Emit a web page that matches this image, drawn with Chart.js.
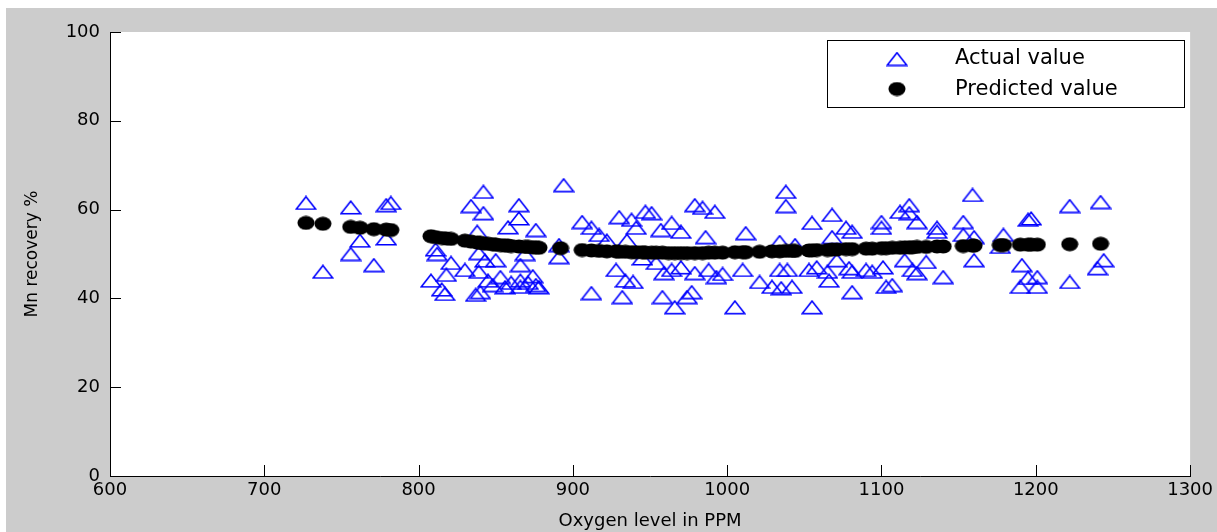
<!DOCTYPE html>
<html>
<head>
<meta charset="utf-8">
<title>Mn recovery vs oxygen level</title>
<script src="https://cdn.jsdelivr.net/npm/chart.js@4.4.1/dist/chart.umd.min.js"></script>
<style>
  html, body { margin: 0; padding: 0; background: #fff; }
  #wrap { width: 1217px; height: 532px; }
</style>
</head>
<body>
<div id="wrap"><canvas id="mnChart" width="1217" height="532"></canvas></div>
<script>
// measured samples: oxygen level (PPM) and Mn recovery (%)
const oxygen = [
  727, 738, 756, 756, 762, 771, 779, 779, 782,
  808, 811, 812, 815, 817, 818, 821, 830, 834, 837, 838, 839, 839, 840, 842, 842, 843, 845, 848,
  850, 853, 856, 858, 860, 865, 865, 866, 866, 866, 869, 871, 874, 876, 876, 878,
  891, 891, 894,
  906, 912, 912, 917, 922, 928, 930, 932, 934, 935, 938, 939, 941, 945, 947, 951, 954, 957,
  958, 959, 964, 964, 966, 970, 970, 974, 977, 979, 979, 984, 986, 988, 992, 993, 997,
  1005, 1010, 1012, 1021, 1029, 1034, 1034, 1035, 1038, 1038, 1039, 1042, 1044, 1053, 1055, 1055, 1058,
  1065, 1066, 1068, 1068, 1071, 1077, 1079, 1081, 1081, 1081, 1090, 1094, 1100, 1100, 1101, 1103, 1107,
  1112, 1115, 1118, 1118, 1120, 1123, 1123, 1129, 1136, 1136, 1140, 1153, 1153, 1159, 1160,
  1160, 1177, 1179, 1190, 1191, 1195, 1195, 1197, 1201, 1201, 1222, 1222, 1240, 1242, 1244
];
const actual = [
  61.5, 46.0, 60.5, 50.0, 53.0, 47.5, 61.0, 53.5, 61.5,
  44.0, 51.0, 50.0, 42.0, 41.0, 45.3, 48.0, 46.4, 60.8, 40.8, 55.0, 50.2, 46.0, 41.4, 64.0, 59.2, 48.5, 44.0, 43.0,
  48.6, 44.8, 42.5, 56.0, 43.5, 61.0, 58.0, 47.5, 44.0, 42.6, 50.0, 43.5, 45.0, 55.4, 43.0, 42.5,
  52.0, 49.3, 65.5,
  57.2, 55.9, 41.2, 54.3, 53.0, 46.4, 58.3, 40.3, 44.0, 53.0, 57.7, 43.7, 55.9, 49.0, 59.5, 59.2, 48.0, 55.4,
  40.3, 45.7, 57.0, 46.4, 38.0, 55.0, 47.0, 40.3, 41.4, 61.0, 45.7, 60.4, 53.8, 46.4, 59.5, 44.8, 45.5,
  38.0, 46.4, 54.7, 43.7, 42.6, 52.7, 46.4, 42.3, 64.0, 60.8, 46.4, 42.6, 52.0, 46.4, 57.0, 38.0, 47.0,
  46.0, 44.0, 58.8, 53.8, 48.6, 55.9, 46.8, 55.0, 46.0, 41.4, 46.4, 46.0, 57.2, 55.9, 47.0, 42.6, 43.0,
  59.5, 48.6, 61.0, 59.2, 46.4, 57.2, 45.7, 48.2, 55.9, 55.0, 44.8, 57.2, 54.3, 63.3, 53.8,
  48.6, 51.6, 54.3, 42.6, 47.5, 57.7, 44.6, 58.0, 44.8, 42.6, 60.8, 43.7, 46.8, 61.7, 48.6
];

// model output
const predOxygen = [
  727, 738, 756, 762, 771, 779, 782,
  808, 811, 815, 818, 821, 830, 834, 838, 840, 842, 845, 848, 850, 853, 856, 858, 860, 865, 869, 871, 874, 876, 878,
  892,
  906, 912, 917, 922, 928, 930, 934, 938, 941, 945, 947, 951, 954, 958, 962, 966, 970, 974, 979, 984, 988, 992, 997,
  1005, 1010, 1012, 1021, 1029, 1034, 1038, 1042, 1044, 1053, 1055, 1058, 1065, 1068, 1071, 1077, 1081, 1090, 1094,
  1100, 1103, 1107, 1112, 1115, 1118, 1120, 1123, 1129, 1136, 1140, 1153, 1159, 1160,
  1177, 1179, 1190, 1195, 1197, 1201, 1222, 1242
];
const predicted = [
  57.0, 56.8, 56.1, 55.9, 55.6, 55.5, 55.4,
  54.0, 53.8, 53.6, 53.5, 53.4, 53.0, 52.8, 52.6, 52.5, 52.4, 52.3, 52.2, 52.1, 52.0, 51.9, 51.9, 51.8, 51.7, 51.6, 51.6, 51.5, 51.5, 51.4,
  51.3,
  50.9, 50.8, 50.7, 50.6, 50.6, 50.5, 50.5, 50.4, 50.4, 50.4, 50.3, 50.3, 50.3, 50.3, 50.2, 50.2, 50.2, 50.2, 50.2, 50.2, 50.3, 50.3, 50.3,
  50.4, 50.4, 50.4, 50.5, 50.6, 50.6, 50.7, 50.7, 50.7, 50.8, 50.8, 50.9, 50.9, 51.0, 51.0, 51.1, 51.1, 51.2, 51.2,
  51.3, 51.3, 51.4, 51.4, 51.5, 51.5, 51.5, 51.6, 51.6, 51.7, 51.7, 51.8, 51.9, 51.9,
  52.0, 52.0, 52.1, 52.1, 52.1, 52.1, 52.2, 52.3
];

const xMin = 600, xMax = 1300, xStep = 100;
const yMin = 0, yMax = 100, yStep = 20;

const FONT = "'DejaVu Sans', 'Liberation Sans', Arial, sans-serif";

// marker images: open blue triangle, filled black dot
function makeTriangle() {
  const c = document.createElement("canvas");
  c.width = 22; c.height = 15;
  const g = c.getContext("2d");
  g.strokeStyle = "#0000ff";
  g.lineWidth = 1.6;
  g.beginPath();
  g.moveTo(11, 1.2);
  g.lineTo(20.8, 13.8);
  g.lineTo(1.2, 13.8);
  g.closePath();
  g.stroke();
  return c;
}
function makeDot() {
  const c = document.createElement("canvas");
  c.width = 18; c.height = 15;
  const g = c.getContext("2d");
  g.fillStyle = "#000";
  g.beginPath();
  g.ellipse(9, 7.5, 8.5, 7, 0, 0, Math.PI * 2);
  g.fill();
  return c;
}
const triImg = makeTriangle();
const dotImg = makeDot();

// gray figure background with white axes area
const background = {
  id: "background",
  beforeDraw(chart) {
    const { ctx, width, height, chartArea: a } = chart;
    ctx.save();
    ctx.fillStyle = "#fff";
    ctx.fillRect(0, 0, width, height);
    ctx.fillStyle = "#cccccc";
    ctx.fillRect(6, 8, width - 6, height - 8);
    ctx.fillStyle = "#fff";
    ctx.fillRect(a.left, a.top, a.right - a.left, a.bottom - a.top);
    ctx.restore();
  }
};

// inward tick marks and boxed legend
const overlay = {
  id: "overlay",
  afterDraw(chart) {
    const { ctx, chartArea: a } = chart;
    const xs = chart.scales.x, ys = chart.scales.y;
    ctx.save();
    ctx.strokeStyle = "#000";
    ctx.lineWidth = 1;
    ctx.beginPath();
    xs.ticks.forEach(t => {
      const px = Math.round(xs.getPixelForValue(t.value)) + 0.5;
      ctx.moveTo(px, a.bottom);
      ctx.lineTo(px, a.bottom - 11);
    });
    ys.ticks.forEach(t => {
      const py = Math.round(ys.getPixelForValue(t.value)) + 0.5;
      ctx.moveTo(a.left, py);
      ctx.lineTo(a.left + 11, py);
    });
    ctx.stroke();

    // legend
    const lx = 827, ly = 40, lw = 357, lh = 67;
    ctx.fillStyle = "#fff";
    ctx.fillRect(lx, ly, lw, lh);
    ctx.strokeRect(lx + 0.5, ly + 0.5, lw, lh);
    ctx.drawImage(triImg, 897 - triImg.width / 2, 59 - triImg.height / 2);
    ctx.drawImage(dotImg, 897 - dotImg.width / 2, 89 - dotImg.height / 2);
    ctx.fillStyle = "#000";
    ctx.font = "21px " + FONT;
    ctx.textBaseline = "middle";
    ctx.textAlign = "left";
    ctx.fillText("Actual value", 955, 59);
    ctx.fillText("Predicted value", 955, 90);
    ctx.restore();
  }
};

new Chart(document.getElementById("mnChart"), {
  type: "scatter",
  data: {
    datasets: [
      {
        label: "Actual value",
        data: oxygen.map((x, i) => ({ x: x, y: actual[i] })),
        pointStyle: triImg,
        pointRadius: 10,
        order: 2
      },
      {
        label: "Predicted value",
        data: predOxygen.map((x, i) => ({ x: x, y: predicted[i] })),
        pointStyle: dotImg,
        pointRadius: 9,
        order: 1
      }
    ]
  },
  options: {
    responsive: false,
    animation: false,
    events: [],
    layout: { padding: { left: 6, top: 32, right: 26, bottom: 0 } },
    plugins: { legend: { display: false }, tooltip: { enabled: false } },
    scales: {
      x: {
        type: "linear",
        min: xMin,
        max: xMax,
        ticks: {
          stepSize: xStep, color: "#000", font: { family: FONT, size: 18 }, padding: 4, maxRotation: 0,
          callback: v => String(v)
        },
        grid: { display: true, drawOnChartArea: false, drawTicks: false },
        border: { display: true, color: "#000", width: 1 },
        title: { display: true, text: "Oxygen level in PPM", color: "#000", font: { family: FONT, size: 18 }, padding: { top: 0, bottom: 0 } },
        afterFit(s) { s.height = 56; }
      },
      y: {
        type: "linear",
        min: yMin,
        max: yMax,
        ticks: { stepSize: yStep, color: "#000", font: { family: FONT, size: 18 }, padding: 10, callback: v => String(v) },
        grid: { display: true, drawOnChartArea: false, drawTicks: false },
        border: { display: true, color: "#000", width: 1 },
        title: { display: true, text: "Mn recovery %", color: "#000", font: { family: FONT, size: 17 }, padding: { top: 16, bottom: 0 } },
        afterFit(s) { s.width = 104; }
      }
    }
  },
  plugins: [background, overlay]
});
</script>
</body>
</html>
